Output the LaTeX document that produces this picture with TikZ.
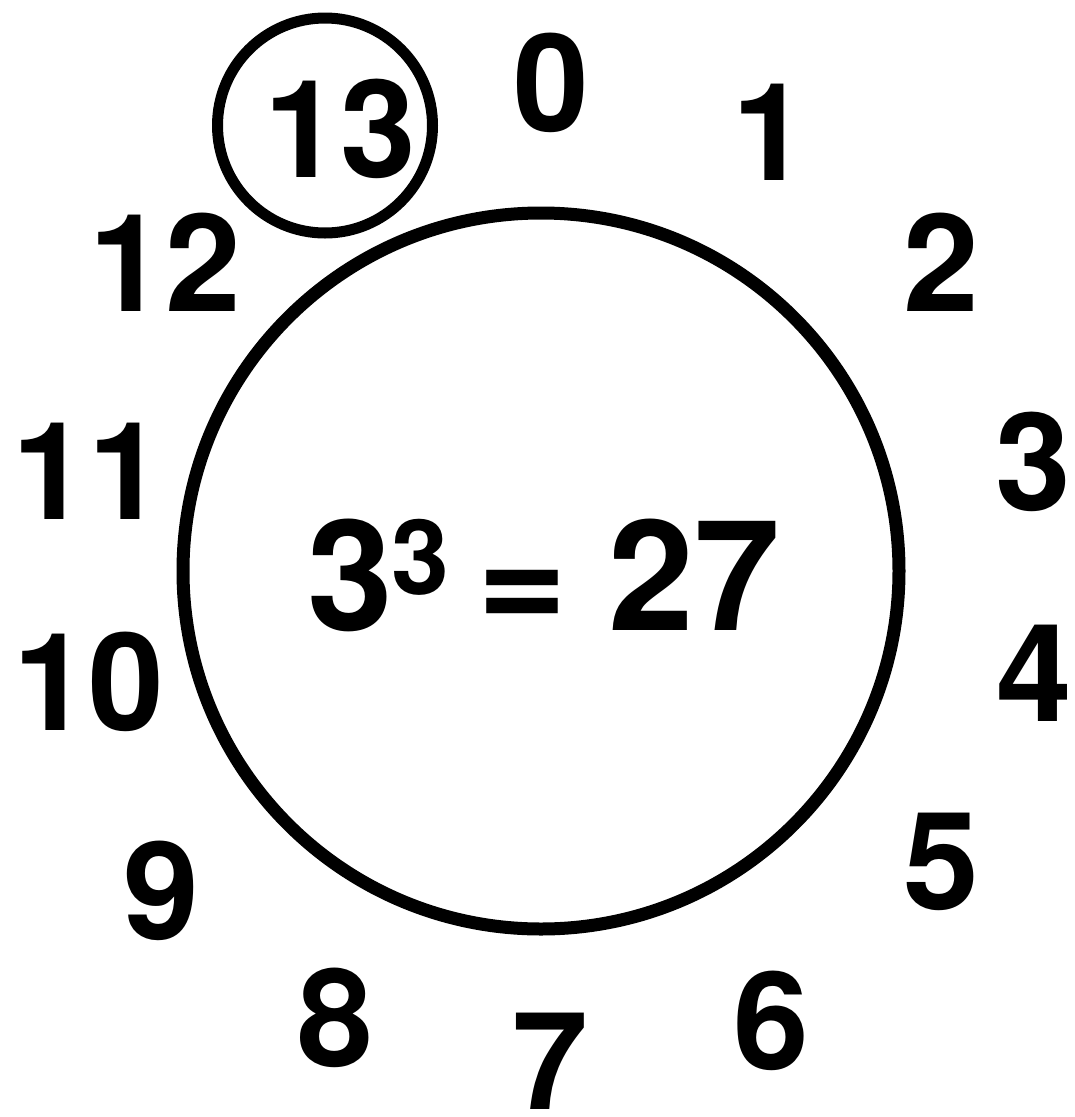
\documentclass[tikz,border=0pt]{standalone}
\usepackage{fontspec}
\setmainfont{TeX Gyre Heros}
\begin{document}
\begin{tikzpicture}[x=1pt,y=-1pt,
  num/.style={inner sep=0pt,anchor=base,font=\fontsize{136}{136}\selectfont\bfseries},
  big/.style={inner sep=0pt,anchor=base,font=\fontsize{154}{154}\selectfont\bfseries},
  sup/.style={inner sep=0pt,anchor=base,font=\fontsize{104}{104}\selectfont\bfseries},
  ring/.style={draw=black,line width=13pt},
  smallring/.style={draw=black,line width=11pt}]
\useasboundingbox (0,0) rectangle (1075,1117);
\draw[ring] (541,571) circle (358);
\draw[smallring] (325,125.5) circle (107.5);
\node[num] (n0) at (551,131) {0};
\node[num] (n1) at (770,180) {1};
\node[num] (n2) at (941,311) {2};
\node[num] (n3) at (1033,510) {3};
\node[num] (n4) at (1034,721) {4};
\node[num] (n5) at (941,909) {5};
\node[num] (n6) at (771,1069) {6};
\node[num] (n7) at (550,1109) {7};
\node[num] (n8) at (335,1066) {8};
\node[num] (n9) at (161,939) {9};
\node[num] (n10) at (89,730) {10};
\node[num] (n11) at (88,519) {11};
\node[num] (n12) at (165,311) {12};
\node[num] (n13) at (340,177) {13};
\node[big] (base) at (350,630) {3};
\node[sup] (exp) at (420,594) {3};
\node[big] (eq) at (522,630) {=};
\node[big] (res) at (694,630) {27};
\end{tikzpicture}
\end{document}
